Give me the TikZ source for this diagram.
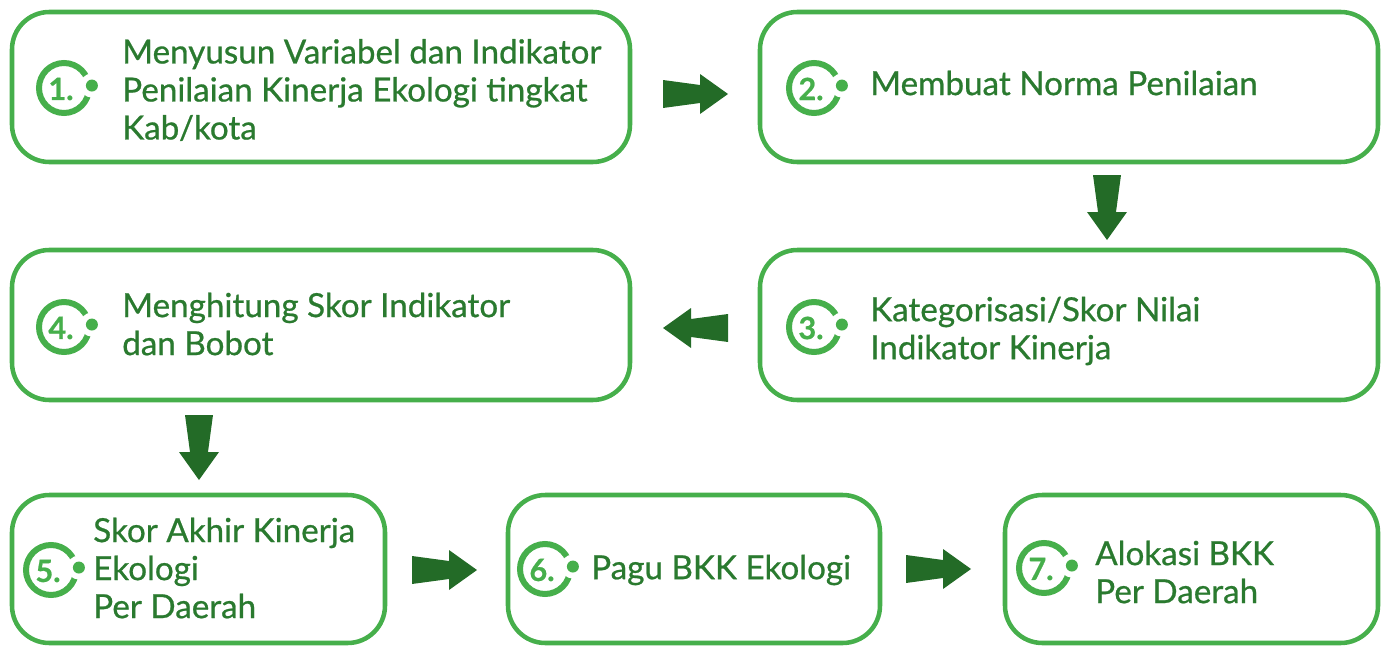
\documentclass[tikz,border=0pt]{standalone}
\usepackage{fontspec}
\setmainfont{Lato}[FakeBold=0.7]
\newfontfamily\badgefont{Lato}[FakeBold=0.7]
\usetikzlibrary{fit}
\definecolor{boxgreen}{HTML}{46AF4B}
\definecolor{txtgreen}{HTML}{2A7A2F}
\definecolor{arrgreen}{HTML}{236B27}
\tikzset{
  box/.style={draw=boxgreen, line width=3.4pt, rounded corners=28pt, inner sep=0pt, fill=white},
  lbl/.style={anchor=west, align=left, text=txtgreen, font=\fontsize{24.9}{28.5}\selectfont, inner sep=0pt},
  pics/barrow/.style={code={
    \fill[arrgreen] (0,-14) -- (37,-9) -- (37,-20) -- (65,0) -- (37,20) -- (37,9) -- (0,14) -- cycle;
  }},
  pics/badge/.style={code={
    \draw[boxgreen, line width=4.5pt] (0,0) circle[radius=25];
    \fill[white] (-5:28) circle[radius=12];
    \fill[boxgreen] (-5:28) circle[radius=6];
    \node[text=boxgreen, font=\fontsize{23}{23}\selectfont\bfseries, inner sep=0pt] at (-3,1) {#1};
  }}
}
\begin{document}
\begin{tikzpicture}[x=0.75pt, y=-0.75pt]
\useasboundingbox (0,0) rectangle (1386,646);
\node[box, fit={(12,12)(630,162)}] (b1) {};
\node[box, fit={(760,12)(1378,162)}] (b2) {};
\node[box, fit={(760,250)(1378,400)}] (b3) {};
\node[box, fit={(12,250)(630,400)}] (b4) {};
\node[box, fit={(12,495)(385,643)}] (b5) {};
\node[box, fit={(508,495)(880,643)}] (b6) {};
\node[box, fit={(1005,495)(1378,643)}] (b7) {};

\pic at (64,88) {badge={1.}};
\pic at (814,88) {badge={2.}};
\pic at (814,327) {badge={3.}};
\pic at (64,327) {badge={4.}};
\pic at (51,570) {badge={5.}};
\pic at (545,569) {badge={6.}};
\pic at (1044,568) {badge={7.}};

\node[lbl] (t1) at (122,90) {Menyusun Variabel dan Indikator\\Penilaian Kinerja Ekologi tingkat\\Kab/kota};
\node[lbl] (t2) at (870,83) {Membuat Norma Penilaian};
\node[lbl] (t3) at (870,331) {Kategorisasi/Skor Nilai\\Indikator Kinerja};
\node[lbl] (t4) at (122,324) {Menghitung Skor Indikator\\dan Bobot};
\node[lbl] (t5) at (93,568) {Skor Akhir Kinerja\\Ekologi\\Per Daerah};
\node[lbl] (t6) at (591,570) {Pagu BKK Ekologi};
\node[lbl] (t7) at (1095,572) {Alokasi BKK\\Per Daerah};

\pic at (663,94) {barrow};
\pic[rotate=-90] at (1107,175) {barrow};
\pic[rotate=180] at (728,328) {barrow};
\pic[rotate=-90] at (199,415) {barrow};
\pic at (412,570) {barrow};
\pic at (906,569) {barrow};
\end{tikzpicture}
\end{document}
